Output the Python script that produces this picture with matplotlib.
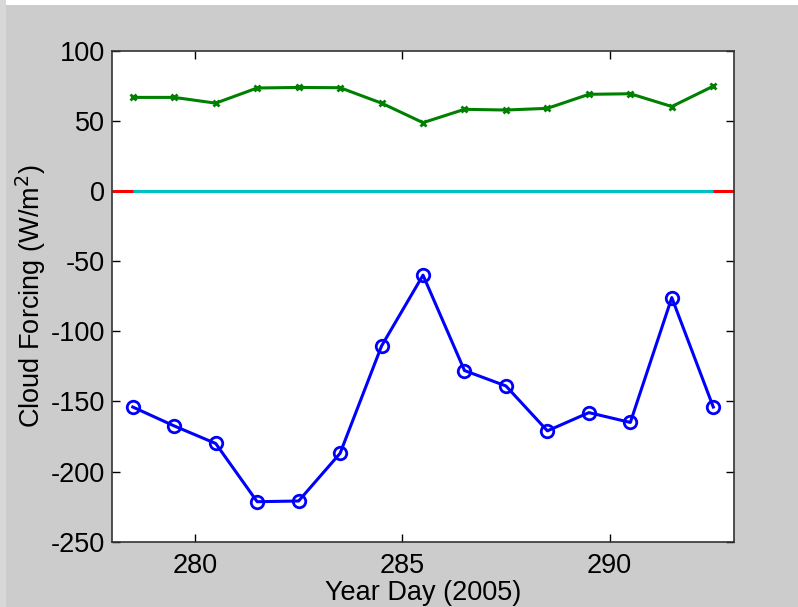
import matplotlib
matplotlib.use("Agg")
import matplotlib.pyplot as plt
from matplotlib.patches import Rectangle

days = [278.5, 279.5, 280.5, 281.5, 282.5, 283.5, 284.5, 285.5,
        286.5, 287.5, 288.5, 289.5, 290.5, 291.5, 292.5]
sw_forcing = [-154, -167.5, -180, -221.5, -221, -187, -110.5, -60,
              -128, -139, -171, -158, -165, -76, -154]
lw_forcing = [66.7, 66.7, 62.6, 73.4, 73.8, 73.6, 62.6, 48.7,
              58.2, 57.7, 58.9, 68.9, 69.3, 60.2, 74.7]
x_limits = [278, 293]
y_limits = [-250, 100]
x_ticks = [280, 285, 290]
y_ticks = [100, 50, 0, -50, -100, -150, -200, -250]

plt.rcParams['font.family'] = ['Liberation Sans', 'DejaVu Sans']
plt.rcParams['axes.unicode_minus'] = False

fig = plt.figure(figsize=(7.98, 6.07), dpi=100, facecolor='#cccccc')
# light frame on top/left edges
fig.patches.append(Rectangle((0, 1 - 5/607), 1, 5/607, transform=fig.transFigure,
                             facecolor='#ffffff', edgecolor='none', zorder=-1))
fig.patches.append(Rectangle((0, 0), 6/798, 1, transform=fig.transFigure,
                             facecolor='#d8d8d8', edgecolor='none', zorder=-1))

ax = fig.add_axes([0.1404, 0.1076, 0.7794, 0.8089])
ax.set_facecolor('white')

ax.plot(x_limits, [0, 0], color='#ff0000', lw=2.2, solid_capstyle='butt', zorder=2)
ax.plot([days[0], days[-1]], [0, 0], color='#00bfbf', lw=2.2, solid_capstyle='butt', zorder=3)

ax.plot(days, lw_forcing, color='#008000', lw=2.2, marker='x', ms=5, mew=2, zorder=4)
ax.plot(days, sw_forcing, color='#0000ff', lw=2.2, marker='o', ms=9, mew=2,
        mfc='none', mec='#0000ff', zorder=4)

ax.set_xlim(x_limits)
ax.set_ylim(y_limits)
ax.set_xticks(x_ticks)
ax.set_yticks(y_ticks)
ax.tick_params(direction='in', length=6, width=1, top=True, right=True,
               labelsize=19.5, colors='black')
ax.tick_params(axis='x', pad=8)
ax.tick_params(axis='y', pad=5)
for s in ax.spines.values():
    s.set_linewidth(1.2)
    s.set_color('#333333')

ax.set_xlabel('Year Day (2005)', fontsize=19.5, labelpad=1)
ax.set_ylabel('Cloud Forcing (W/m$^2$)', fontsize=19.5, labelpad=2)

fig.savefig('out.png', dpi=100, facecolor=fig.get_facecolor())
